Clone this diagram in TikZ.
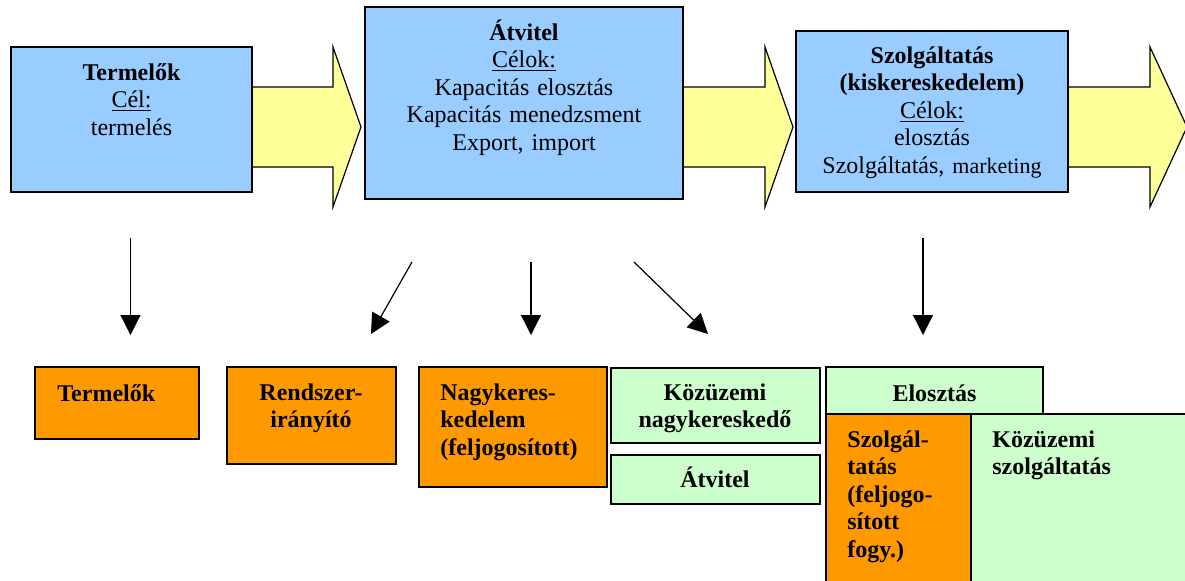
\documentclass[tikz,border=0pt]{standalone}
\usepackage{fontspec}
\setmainfont{Liberation Serif}
\usepackage{xcolor}
\definecolor{boxblue}{HTML}{99CCFF}
\definecolor{flowyellow}{HTML}{FFFF99}
\definecolor{boxorange}{HTML}{FF9900}
\definecolor{boxgreen}{HTML}{CCFFCC}
\usetikzlibrary{arrows.meta}
\usetikzlibrary{fit}

\tikzset{
  box/.style={draw=black, line width=0.6pt, inner sep=0pt},
  bluebox/.style={box, fill=boxblue},
  orangebox/.style={box, fill=boxorange},
  greenbox/.style={box, fill=boxgreen},
  flow/.style={draw=black, line width=0.6pt, fill=flowyellow},
  down/.style={line width=0.6pt, -{Triangle[width=10pt,length=10pt]}},
  txt/.style={inner sep=0pt, font=\fontsize{12}{13.8}\selectfont},
  ctxt/.style={txt, anchor=base, align=center, text width=#1},
  ltxt/.style={txt, anchor=base west, align=left, text width=#1}
}

\begin{document}
\begin{tikzpicture}[x=0.5pt, y=-0.5pt, every node/.style={scale=1}]
  \useasboundingbox (0,0) rectangle (1185,580);

  % Flow arrows
  \draw[flow] (240,87) -- (333,87) -- (333,47) -- (361,127) -- (333,207) -- (333,167) -- (240,167) -- cycle;
  \draw[flow] (670,87) -- (765,87) -- (765,47) -- (793,127) -- (765,207) -- (765,167) -- (670,167) -- cycle;
  \draw[flow] (1055,87) -- (1150,87) -- (1150,47) -- (1187,127) -- (1150,207) -- (1150,167) -- (1055,167) -- cycle;

  % Top blocks
  \node[bluebox, fit={(11,47) (252,192)}] (termelo) {};
  \node[ctxt=110pt] (termelotxt) at (131.5,80) {\textbf{Termelők}\\\underline{Cél:}\\termelés};

  \node[bluebox, fit={(365,7) (683,199)}] (atvitel) {};
  \node[ctxt=150pt] (atviteltxt) at (524,40) {\textbf{Átvitel}\\\underline{Célok:}\\Kapacitás elosztás\\Kapacitás menedzsment\\Export, import};

  \node[bluebox, fit={(796,31) (1068,192)}] (szolg) {};
  \node[ctxt=132pt] (szolgtxt) at (932,63) {\textbf{Szolgáltatás}\\\textbf{(kiskereskedelem)}\\\underline{Célok:}\\elosztás\\Szolgáltatás, {\fontsize{11}{13.8}\selectfont marketing}};

  % Down arrows
  \coordinate (termelofrom) at (130.5,238);
  \coordinate (termeloto) at (130.5,335);
  \coordinate (rendszerfrom) at (412,262);
  \coordinate (rendszerto) at (371,334);
  \coordinate (nagykerfrom) at (531,262);
  \coordinate (nagykerto) at (531,335);
  \coordinate (kozuzemifrom) at (634,262);
  \coordinate (kozuzemito) at (708,334);
  \coordinate (elosztasfrom) at (923,238);
  \coordinate (elosztasto) at (923,335);
  \draw[down] (termelofrom) -- (termeloto);
  \draw[down] (rendszerfrom) -- (rendszerto);
  \draw[down] (nagykerfrom) -- (nagykerto);
  \draw[down] (kozuzemifrom) -- (kozuzemito);
  \draw[down] (elosztasfrom) -- (elosztasto);

  % Market players
  \node[orangebox, fit={(35,367) (199,439)}] (termeloszereplo) {};
  \node[ltxt=70pt] (termeloszereplotxt) at (57,401) {\textbf{Termelők}};

  \node[orangebox, fit={(227,367) (396,464)}] (rendszer) {};
  \node[ctxt=80pt] (rendszertxt) at (311,400) {\textbf{Rendszer-}\\\textbf{irányító}};

  \node[orangebox, fit={(419,367) (607,487)}] (nagyker) {};
  \node[ltxt=80pt] (nagykertxt) at (440,400) {\textbf{Nagykeres-}\\\textbf{kedelem}\\\textbf{(feljogosított)}};

  \node[greenbox, fit={(611,368) (820,443)}] (kozuzemi) {};
  \node[ctxt=100pt] (kozuzemitxt) at (715,400) {\textbf{Közüzemi}\\\textbf{nagykereskedő}};

  \node[greenbox, fit={(611,455) (820,504)}] (halozat) {};
  \node[ctxt=100pt] (halozattxt) at (715,487) {\textbf{Átvitel}};

  \node[greenbox, fit={(826,367) (1043,414)}] (elosztas) {};
  \node[ctxt=100pt] (elosztastxt) at (934.5,401) {\textbf{Elosztás}};

  \node[orangebox, fit={(826,414) (971,595)}] (szolgfogy) {};
  \node[ltxt=60pt] (szolgfogytxt) at (847,447) {\textbf{Szolgál-}\\\textbf{tatás}\\\textbf{(feljogo-}\\\textbf{sított}\\\textbf{fogy.)}};

  \node[greenbox, fit={(971,414) (1195,595)}] (kozszolg) {};
  \node[ltxt=100pt] (kozszolgtxt) at (992,447) {\textbf{Közüzemi}\\\textbf{szolgáltatás}};

\end{tikzpicture}
\end{document}
